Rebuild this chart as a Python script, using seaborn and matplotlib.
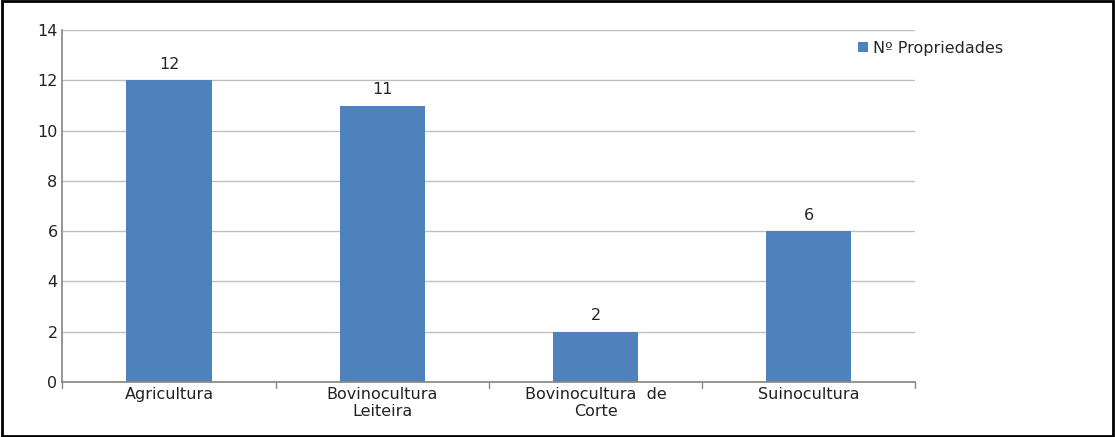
import matplotlib
matplotlib.use("Agg")
import matplotlib.pyplot as plt
import seaborn as sns
import pandas as pd

categories = ["Agricultura", "Bovinocultura\nLeiteira", "Bovinocultura  de\nCorte", "Suinocultura"]
values = [12, 11, 2, 6]
series_name = "Nº Propriedades"

sns.set_theme(style="white")
plt.rcParams['font.family'] = ['DejaVu Sans']

fig = plt.figure(figsize=(11.15, 4.37), dpi=100)
ax = fig.add_axes([0.056, 0.126, 0.765, 0.805])
df = pd.DataFrame({"cat": categories, "val": values, "s": series_name})
sns.barplot(data=df, x="cat", y="val", hue="s", palette=["#4F81BD"], width=0.4, ax=ax,
            saturation=1, linewidth=0)
ax.set_xlim(-0.5, 3.5)
ax.set_ylim(0, 14)
ax.set_yticks(range(0, 15, 2))
ax.yaxis.grid(True, color="#BFBFBF", linewidth=1)
ax.set_axisbelow(True)
ax.set_xlabel(""); ax.set_ylabel("")
for s in ["top", "right"]:
    ax.spines[s].set_visible(False)
for s in ["left", "bottom"]:
    ax.spines[s].set_color("#888888")
ax.tick_params(axis="both", labelsize=11.5, colors="#222222", length=0)
for c in ax.containers:
    ax.bar_label(c, padding=6, fontsize=11.5)
for x in [-0.5, 0.5, 1.5, 2.5, 3.5]:
    ax.plot([x, x], [0, -0.25], color="#888888", lw=1, clip_on=False)
ax.legend(loc="upper left", bbox_to_anchor=(0.757, 0.94), bbox_transform=fig.transFigure,
          frameon=False, fontsize=11.5, handlelength=0.6, handleheight=0.6, handletextpad=0.3)
fig.patches.append(plt.Rectangle((0.002, 0.003), 0.996, 0.994, transform=fig.transFigure,
                                 fill=False, edgecolor="black", linewidth=2))
fig.savefig("out.png", dpi=100)
